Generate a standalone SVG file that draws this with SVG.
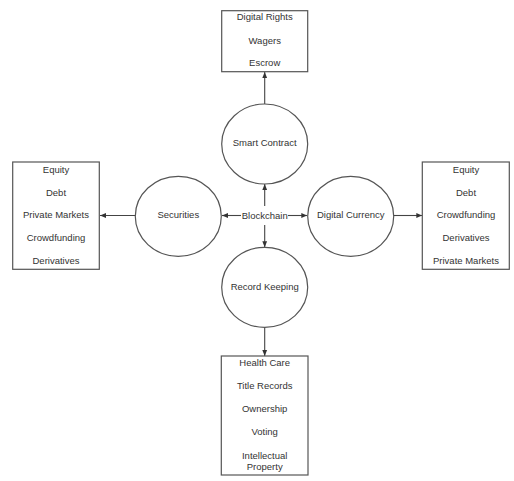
<svg xmlns="http://www.w3.org/2000/svg" width="514" height="481" viewBox="0 0 514 481">
<style>
.n{fill:#fff;stroke:#555;stroke-width:1.2}
.t{font-family:"Liberation Sans",Arial,sans-serif;font-size:9.5px;fill:#333;text-anchor:middle}
.c{stroke:#444;stroke-width:1.1;fill:none}
</style>
<defs>
<marker id="a" viewBox="0 0 10 10" refX="10" refY="5" markerWidth="6" markerHeight="6" markerUnits="userSpaceOnUse" orient="auto">
<path d="M0,1 L10,5 L0,9 Z" fill="#333"/>
</marker>
</defs>
<rect width="514" height="481" fill="#fff"/>
<g id="connectors">
<line class="c" x1="264.7" y1="104" x2="264.7" y2="72" marker-end="url(#a)"/>
<line class="c" x1="264.7" y1="206" x2="264.7" y2="184" marker-end="url(#a)"/>
<line class="c" x1="264.7" y1="225" x2="264.7" y2="247.3" marker-end="url(#a)"/>
<line class="c" x1="241" y1="215.5" x2="222" y2="215.5" marker-end="url(#a)"/>
<line class="c" x1="288" y1="215.5" x2="307.3" y2="215.5" marker-end="url(#a)"/>
<line class="c" x1="135" y1="215.5" x2="100" y2="215.5" marker-end="url(#a)"/>
<line class="c" x1="394" y1="215.5" x2="422.3" y2="215.5" marker-end="url(#a)"/>
<line class="c" x1="264.7" y1="327.3" x2="264.7" y2="356" marker-end="url(#a)"/>
</g>
<g id="blockchain"><text class="t" x="264.7" y="218.6">Blockchain</text></g>
<g id="smart-contract">
<ellipse class="n" cx="264.7" cy="144" rx="43" ry="40"/>
<text class="t" x="264.7" y="146.2">Smart Contract</text>
</g>
<g id="smart-contract-box">
<rect class="n" x="221.7" y="10.7" width="86" height="61"/>
<text class="t" x="264.7" y="20.2">Digital Rights</text>
<text class="t" x="264.7" y="43.5">Wagers</text>
<text class="t" x="264.7" y="66.2">Escrow</text>
</g>
<g id="securities">
<ellipse class="n" cx="178.3" cy="216.3" rx="43" ry="40"/>
<text class="t" x="178.3" y="217.6">Securities</text>
</g>
<g id="securities-box">
<rect class="n" x="12.7" y="162" width="86.6" height="107.3"/>
<text class="t" x="56" y="172.5">Equity</text>
<text class="t" x="56" y="195.5">Debt</text>
<text class="t" x="56" y="217.8">Private Markets</text>
<text class="t" x="56" y="241.2">Crowdfunding</text>
<text class="t" x="56" y="263.5">Derivatives</text>
</g>
<g id="digital-currency">
<ellipse class="n" cx="350.7" cy="216.3" rx="43" ry="40"/>
<text class="t" x="350.7" y="217.6">Digital Currency</text>
</g>
<g id="digital-currency-box">
<rect class="n" x="422.3" y="162" width="87" height="107.3"/>
<text class="t" x="466" y="172.5">Equity</text>
<text class="t" x="466" y="195.5">Debt</text>
<text class="t" x="466" y="217.8">Crowdfunding</text>
<text class="t" x="466" y="241.2">Derivatives</text>
<text class="t" x="466" y="263.5">Private Markets</text>
</g>
<g id="record-keeping">
<ellipse class="n" cx="264.7" cy="287.3" rx="43" ry="40"/>
<text class="t" x="264.7" y="290.2">Record Keeping</text>
</g>
<g id="record-keeping-box">
<rect class="n" x="221.3" y="356" width="86.7" height="119"/>
<text class="t" x="264.7" y="365.8">Health Care</text>
<text class="t" x="264.7" y="388.8">Title Records</text>
<text class="t" x="264.7" y="412.2">Ownership</text>
<text class="t" x="264.7" y="435.2">Voting</text>
<text class="t" x="264.7" y="458.5">Intellectual</text>
<text class="t" x="264.7" y="469.5">Property</text>
</g>
</svg>
